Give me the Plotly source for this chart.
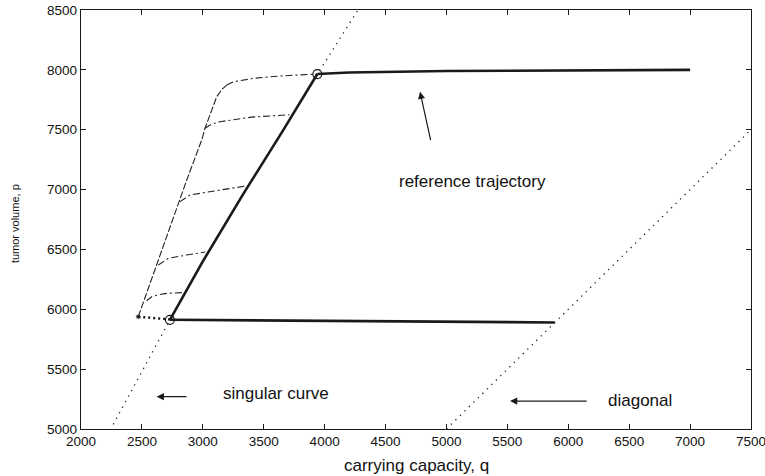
import plotly.graph_objects as go

# ---- data ----
x_ticks = [2000, 2500, 3000, 3500, 4000, 4500, 5000, 5500, 6000, 6500, 7000, 7500]
y_ticks = [5000, 5500, 6000, 6500, 7000, 7500, 8000, 8500]

# singular curve (dotted)
sing_q = [2265, 2553, 2730, 3000, 3330, 3650, 3940, 4274]
sing_p = [5039, 5576, 5912, 6400, 6960, 7480, 7965, 8500]

# diagonal p = q (dotted)
diag_q = [5000, 7500]
diag_p = [5000, 7500]

# reference trajectory (thick solid)
ref_low_q = [5890, 5000, 4000, 3000, 2730]
ref_low_p = [5890, 5897, 5905, 5911, 5912]
ref_rise_q = [2730, 3000, 3330, 3650, 3940]
ref_rise_p = [5912, 6400, 6960, 7480, 7965]
ref_top_q = [3940, 4200, 5000, 6000, 7000]
ref_top_p = [7965, 7978, 7990, 7997, 8000]

# short thick dotted piece at the lower left
start_q = [2470, 2730]
start_p = [5938, 5915]

# envelope (dashed) from the start point upward
env_q = [2470, 2868, 2991, 3018, 3114, 3160, 3196]
env_p = [5938, 7080, 7414, 7512, 7776, 7840, 7873]

# dash-dot branches
c1_q = [2539, 2580, 2640, 2703, 2840]
c1_p = [6071, 6105, 6122, 6133, 6140]
c2_q = [2635, 2717, 2867, 3020]
c2_p = [6370, 6426, 6453, 6478]
c3_q = [2813, 2895, 3141, 3372]
c3_p = [6899, 6955, 6996, 7032]
c4_q = [3018, 3070, 3141, 3400, 3710]
c4_p = [7512, 7545, 7567, 7605, 7625]
c5_q = [3196, 3250, 3415, 3634, 3940]
c5_p = [7873, 7900, 7929, 7949, 7965]

circle_q = [2730, 3940]
circle_p = [5912, 7965]

FONT = "Liberation Sans, Arial, Helvetica, sans-serif"
INK = "#1a1a1a"

fig = go.Figure()

def line(q, p, width, dash, color=INK):
    fig.add_trace(go.Scatter(x=q, y=p, mode="lines", hoverinfo="skip",
                             line=dict(color=color, width=width, dash=dash),
                             showlegend=False))

line(sing_q, sing_p, 1.3, "1.3px,5px", "#222")
line(diag_q, diag_p, 1.3, "1.3px,5px", "#222")
line(env_q, env_p, 1.1, "7px,2px", "#222")
for cq, cp in [(c1_q, c1_p), (c2_q, c2_p), (c3_q, c3_p), (c4_q, c4_p), (c5_q, c5_p)]:
    line(cq, cp, 1.1, "7px,3px,2px,3px", "#222")
line(start_q, start_p, 2.5, "2px,3px")
line(ref_low_q, ref_low_p, 2.6, "solid")
line(ref_rise_q, ref_rise_p, 2.6, "solid")
line(ref_top_q, ref_top_p, 2.6, "solid")

fig.add_trace(go.Scatter(x=circle_q, y=circle_p, mode="markers", hoverinfo="skip",
                         marker=dict(symbol="circle-open", size=9, color=INK,
                                     line=dict(width=1.2, color=INK)),
                         showlegend=False))
fig.add_trace(go.Scatter(x=[start_q[0]], y=[start_p[0]], mode="markers", hoverinfo="skip",
                         marker=dict(symbol="asterisk-open", size=4, color=INK,
                                     line=dict(width=1, color=INK)),
                         showlegend=False))

ann = []
# text labels
ann.append(dict(x=5210, y=7071, xref="x", yref="y", text="reference trajectory",
                showarrow=False, font=dict(size=17, family=FONT, color="#111")))
ann.append(dict(x=3597, y=5300, xref="x", yref="y", text="singular curve",
                showarrow=False, font=dict(size=17, family=FONT, color="#111")))
ann.append(dict(x=6585, y=5236, xref="x", yref="y", text="diagonal",
                showarrow=False, font=dict(size=17, family=FONT, color="#111")))
# arrows
for (hx, hy, tx, ty) in [(4783, 7817, 4873, 7400), (2621, 5270, 2878, 5270), (5522, 5233, 6163, 5233)]:
    ann.append(dict(x=hx, y=hy, ax=tx, ay=ty, xref="x", yref="y", axref="x", ayref="y",
                    text="", showarrow=True, arrowhead=2, arrowsize=1.2, arrowwidth=1.2,
                    arrowcolor=INK, standoff=0, startstandoff=0))
# axis titles
ann.append(dict(x=0.5, y=-0.086, xref="paper", yref="paper", text="carrying capacity, q",
                showarrow=False, yanchor="middle", font=dict(size=17, family=FONT, color="#111")))
ann.append(dict(x=-0.0985, y=0.489, xref="paper", yref="paper", text="tumor volume, p",
                showarrow=False, textangle=-90, xanchor="center", yanchor="middle",
                font=dict(size=11, family=FONT, color="#111")))

axis_common = dict(showline=True, linecolor=INK, linewidth=1.3, mirror="ticks",
                   ticks="inside", ticklen=5, tickwidth=1, tickcolor=INK,
                   showgrid=False, zeroline=False, automargin=False,
                   ticklabeloverflow="allow",
                   tickfont=dict(size=13.5, family=FONT, color="#111"))

fig.update_layout(
    width=765, height=476,
    margin=dict(l=81, r=14, t=10, b=47),
    paper_bgcolor="white", plot_bgcolor="white",
    annotations=ann,
    xaxis=dict(range=[2000, 7500], tickvals=x_ticks, ticktext=[str(v) for v in x_ticks], **axis_common),
    yaxis=dict(range=[5000, 8500], tickvals=y_ticks, ticktext=[str(v) for v in y_ticks], **axis_common),
)

fig.write_html("out.html", config={"displayModeBar": False},
               post_script="document.body.style.margin='0';document.body.style.padding='0';")
